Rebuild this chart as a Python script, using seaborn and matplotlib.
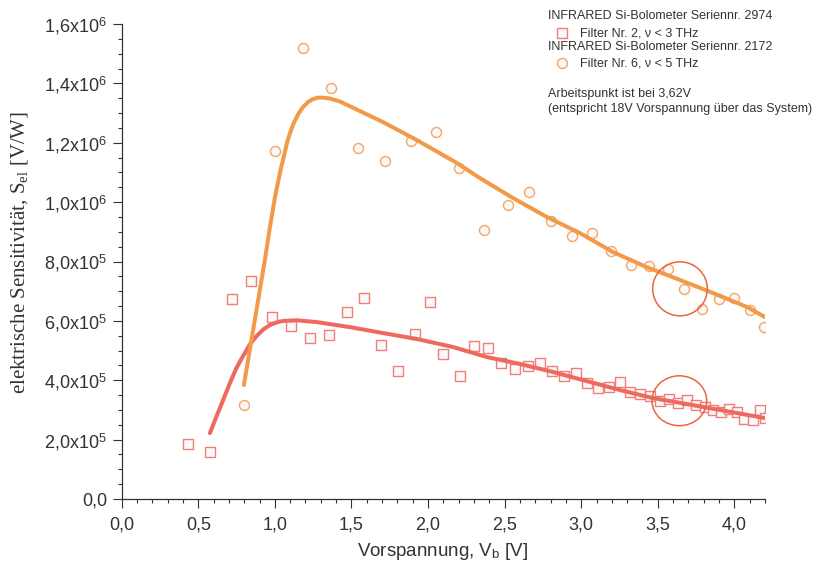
import numpy as np
import pandas as pd
import matplotlib
matplotlib.use("Agg")
import matplotlib.pyplot as plt
import seaborn as sns
from matplotlib.patches import Ellipse
from matplotlib.lines import Line2D
from matplotlib.ticker import MultipleLocator, FuncFormatter

# --- Messdaten: Filter Nr. 2 (Seriennr. 2974) ---
v_filter2 = [0.433, 0.576, 0.720, 0.844, 0.981, 1.105, 1.229, 1.353, 1.471, 1.582,
             1.693, 1.804, 1.915, 2.012, 2.097, 2.208, 2.300, 2.391, 2.476, 2.567,
             2.652, 2.731, 2.809, 2.888, 2.966, 3.037, 3.109, 3.181, 3.253, 3.318,
             3.383, 3.448, 3.514, 3.573, 3.631, 3.690, 3.749, 3.807, 3.860, 3.912,
             3.964, 4.017, 4.062, 4.121, 4.167, 4.199]
s_filter2 = [1.85e5, 1.58e5, 6.74e5, 7.34e5, 6.13e5, 5.83e5, 5.42e5, 5.52e5, 6.30e5, 6.77e5,
             5.19e5, 4.31e5, 5.56e5, 6.64e5, 4.88e5, 4.14e5, 5.15e5, 5.09e5, 4.58e5, 4.38e5,
             4.48e5, 4.58e5, 4.31e5, 4.14e5, 4.24e5, 3.91e5, 3.74e5, 3.77e5, 3.94e5, 3.60e5,
             3.54e5, 3.47e5, 3.30e5, 3.37e5, 3.23e5, 3.33e5, 3.17e5, 3.10e5, 3.00e5, 2.93e5,
             3.03e5, 2.93e5, 2.69e5, 2.66e5, 3.00e5, 2.73e5]

# --- Messdaten: Filter Nr. 6 (Seriennr. 2172) ---
v_filter6 = [0.798, 1.001, 1.183, 1.366, 1.543, 1.719, 1.887, 2.052, 2.202, 2.365,
             2.522, 2.659, 2.802, 2.939, 3.070, 3.194, 3.325, 3.442, 3.566, 3.671,
             3.788, 3.899, 3.997, 4.101, 4.193]
s_filter6 = [3.17e5, 1.172e6, 1.519e6, 1.384e6, 1.182e6, 1.139e6, 1.206e6, 1.236e6, 1.115e6, 9.06e5,
             9.90e5, 1.034e6, 9.36e5, 8.86e5, 8.96e5, 8.35e5, 7.88e5, 7.85e5, 7.75e5, 7.07e5,
             6.40e5, 6.74e5, 6.77e5, 6.37e5, 5.79e5]

# --- Ausgleichskurven ---
v_fit2 = [0.576, 0.618, 0.663, 0.707, 0.749, 0.794, 0.837, 0.881, 0.924, 0.968,
          1.012, 1.055, 1.142, 1.273, 1.490, 1.706, 1.928, 2.163, 2.385, 2.600,
          2.815, 3.037, 3.253, 3.468, 3.690, 3.905, 4.121, 4.199]
s_fit2 = [2.22e5, 2.77e5, 3.34e5, 3.91e5, 4.41e5, 4.83e5, 5.21e5, 5.49e5, 5.71e5, 5.86e5,
          5.95e5, 6.00e5, 6.02e5, 5.96e5, 5.79e5, 5.59e5, 5.39e5, 5.12e5, 4.78e5, 4.55e5,
          4.28e5, 3.97e5, 3.67e5, 3.40e5, 3.20e5, 3.00e5, 2.80e5, 2.73e5]

v_fit6 = [0.798, 0.935, 0.968, 1.001, 1.033, 1.079, 1.099, 1.125, 1.151, 1.183,
          1.216, 1.249, 1.282, 1.314, 1.360, 1.425, 1.705, 1.927, 2.188, 2.339,
          2.554, 2.776, 2.991, 3.207, 3.428, 3.644, 3.860, 4.082, 4.199]
s_fit6 = [3.84e5, 8.05e5, 9.16e5, 1.017e6, 1.098e6, 1.199e6, 1.233e6, 1.268e6, 1.295e6, 1.320e6,
          1.337e6, 1.347e6, 1.352e6, 1.352e6, 1.349e6, 1.339e6, 1.270e6, 1.209e6, 1.132e6, 1.081e6,
          1.014e6, 9.50e5, 8.96e5, 8.32e5, 7.81e5, 7.38e5, 6.94e5, 6.47e5, 6.13e5]

# Arbeitspunkt-Markierungen (Mitte V, Mitte S)
mark_v = [3.645, 3.641]
mark_s = [7.08e5, 3.31e5]

legend_lines = [
    "INFRARED Si-Bolometer Seriennr. 2974",
    "Filter Nr. 2, \u03bd < 3 THz",
    "INFRARED Si-Bolometer Seriennr. 2172",
    "Filter Nr. 6, \u03bd < 5 THz",
    "Arbeitspunkt ist bei 3,62V",
    "(entspricht 18V Vorspannung \u00fcber das System)",
]

RED_LINE = "#EE6A5E"
RED_EDGE = "#F07E79"
ORA_LINE = "#F39A4A"
ORA_EDGE = "#F6A661"
MARK_COL = "#EA6640"
INK = "#333333"

sns.set_theme(style="ticks")
plt.rcParams.update({
    "font.family": ["Liberation Sans", "DejaVu Sans"],
    "mathtext.fontset": "custom",
    "mathtext.rm": "Liberation Serif",
    "mathtext.sf": "Liberation Sans",
    "mathtext.it": "Liberation Serif:italic",
})

df2 = pd.DataFrame({"V": v_filter2, "S": s_filter2})
df6 = pd.DataFrame({"V": v_filter6, "S": s_filter6})
fit2 = pd.DataFrame({"V": v_fit2, "S": s_fit2})
fit6 = pd.DataFrame({"V": v_fit6, "S": s_fit6})

fig = plt.figure(figsize=(8.16, 5.69), dpi=100)
ax = fig.add_axes([0.1491, 0.1230, 0.7884, 0.8348])

sns.scatterplot(data=df2, x="V", y="S", marker="s", s=52, color="#F9F9F9",
                edgecolor=RED_EDGE, linewidth=1.0, ax=ax, zorder=2, legend=False)
sns.scatterplot(data=df6, x="V", y="S", marker="o", s=52, color="#F9F9F9",
                edgecolor=ORA_EDGE, linewidth=1.0, ax=ax, zorder=2, legend=False)
sns.lineplot(data=fit2, x="V", y="S", sort=False, estimator=None, color=RED_LINE,
             linewidth=2.9, ax=ax, zorder=3, solid_capstyle="round",
             solid_joinstyle="round")
sns.lineplot(data=fit6, x="V", y="S", sort=False, estimator=None, color=ORA_LINE,
             linewidth=2.9, ax=ax, zorder=3, solid_capstyle="round",
             solid_joinstyle="round")

for cv, cs, h in zip(mark_v, mark_s, [1.82e5, 1.68e5]):
    ax.add_patch(Ellipse((cv, cs), width=0.357, height=h, fill=False,
                         edgecolor=MARK_COL, linewidth=1.1, zorder=4))

ax.set_xlim(0, 4.2)
ax.set_ylim(0, 1.6e6)
ax.xaxis.set_major_locator(MultipleLocator(0.5))
ax.xaxis.set_minor_locator(MultipleLocator(0.1))
ax.yaxis.set_major_locator(MultipleLocator(2e5))
ax.yaxis.set_minor_locator(MultipleLocator(5e4))


def fmt_y(v, pos):
    if v <= 1:
        return "0,0"
    e = int(np.floor(np.log10(v) + 1e-9))
    m = v / 10 ** e
    return f"{m:.1f}".replace(".", ",") + r"x10$^{\mathsf{" + str(e) + "}}$"


ax.yaxis.set_major_formatter(FuncFormatter(fmt_y))
ax.xaxis.set_major_formatter(FuncFormatter(lambda v, p: f"{v:.1f}".replace(".", ",")))

for side in ["top", "right"]:
    ax.spines[side].set_visible(False)
for side in ["left", "bottom"]:
    ax.spines[side].set_color(INK)
    ax.spines[side].set_linewidth(0.9)
ax.tick_params(which="major", direction="out", length=6.5, width=0.8, color=INK,
               labelcolor=INK, labelsize=13)
ax.tick_params(which="minor", direction="out", length=3, width=0.8, color=INK)
ax.tick_params(axis="y", which="major", pad=4)
ax.tick_params(axis="x", which="major", pad=6)
ax.set_xlabel("")
ax.set_ylabel("")

fig.text(443 / 816, 1 - 551 / 569, r"Vorspannung, V$_{\mathsf{b}}$ [V]",
         ha="center", va="center", fontsize=13.5, color=INK)
fig.text(20 / 816, 1 - 253 / 569, r"elektrische Sensitivität, S$_{\mathrm{el}}$ [V/W]",
         ha="center", va="center", rotation=90, fontsize=15,
         family=["Liberation Serif", "DejaVu Serif"], color=INK)

# Legende und Hinweis oben rechts
text_pos = [(548, 16), (580, 33), (548, 47), (580, 63), (548, 94), (548, 109)]
for (px, py), line in zip(text_pos, legend_lines):
    fig.text(px / 816, 1 - py / 569, line, ha="left", va="center",
             fontsize=9, color=INK)
fig.add_artist(Line2D([562 / 816], [1 - 33 / 569], marker="s", markersize=6.8,
                      markerfacecolor="#F9F9F9", markeredgecolor=RED_EDGE,
                      markeredgewidth=1.0, linestyle="none", transform=fig.transFigure))
fig.add_artist(Line2D([562 / 816], [1 - 63 / 569], marker="o", markersize=7.2,
                      markerfacecolor="#F9F9F9", markeredgecolor=ORA_EDGE,
                      markeredgewidth=1.0, linestyle="none", transform=fig.transFigure))

fig.savefig("out.png", dpi=100, facecolor="white")
